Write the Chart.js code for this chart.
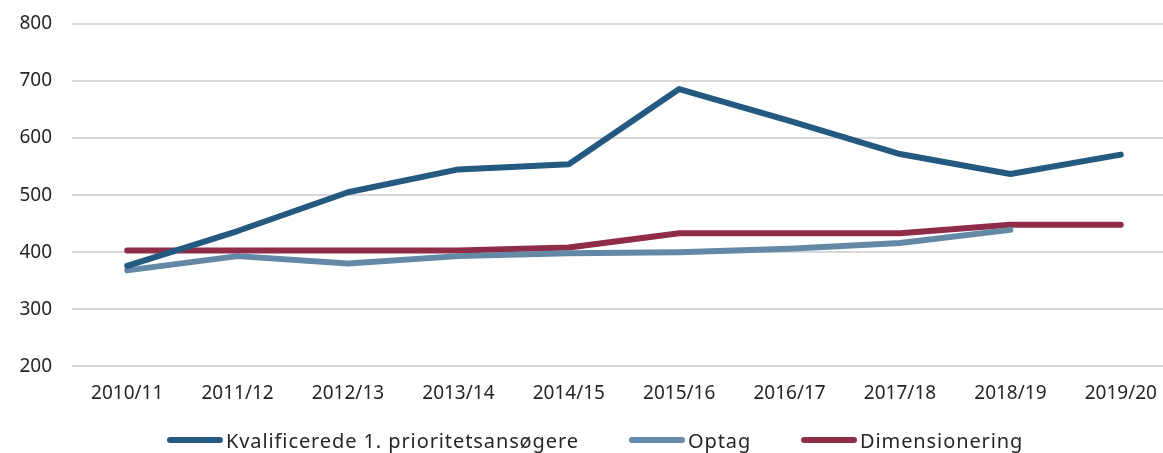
<!DOCTYPE html>
<html>
<head>
<meta charset="utf-8">
<script src="https://cdn.jsdelivr.net/npm/chart.js@4/dist/chart.umd.min.js"></script>
<style>
  html, body { margin: 0; padding: 0; background: #fff; overflow: hidden; }
  #wrap { position: relative; width: 1176px; height: 453px; }
  #legend {
    position: absolute; left: 167px; top: 428px; height: 24px;
    display: flex; align-items: center;
    font-family: 'Noto Sans', sans-serif; font-size: 20px; color: #262626;
    letter-spacing: 0.9px;
  }
  #legend .item { display: flex; align-items: center; }
  #legend .mark { width: 56px; height: 6px; border-radius: 3px; margin-right: 3px; }
</style>
</head>
<body>
<div id="wrap">
  <canvas id="c" width="1176" height="453"></canvas>
  <div id="legend"></div>
</div>
<script>
const years = ["2010/11", "2011/12", "2012/13", "2013/14", "2014/15", "2015/16", "2016/17", "2017/18", "2018/19", "2019/20"];
const kvalificerede = [376, 437, 505, 545, 554, 686, 630, 572, 537, 571];
const optag = [368, 393, 380, 393, 398, 400, 406, 416, 439, null];
const dimensionering = [403, 403, 403, 403, 408, 433, 433, 433, 448, 448];
const yTicks = [200, 300, 400, 500, 600, 700, 800];

const tickFont = { family: "'Noto Sans', sans-serif", size: 19 };
const ink = "#262626";

const line = (label, data, color) => ({
  label, data,
  borderColor: color,
  backgroundColor: color,
  borderWidth: 6,
  borderCapStyle: "round",
  borderJoinStyle: "round",
  pointRadius: 0,
  pointHoverRadius: 0,
  tension: 0,
  spanGaps: false,
});

const chart = new Chart(document.getElementById("c"), {
  type: "line",
  data: {
    labels: years,
    datasets: [
      line("Kvalificerede 1. prioritetsansøgere", kvalificerede, "#245a80"),
      line("Optag", optag, "#6389a6"),
      line("Dimensionering", dimensionering, "#8f2d48"),
    ],
  },
  options: {
    responsive: false,
    animation: false,
    layout: { padding: { top: 24, right: 0, bottom: 40, left: 0 } },
    plugins: {
      tooltip: { enabled: false },
      legend: { display: false },
    },
    scales: {
      x: {
        offset: true,
        grid: { display: false },
        border: { display: false },
        ticks: { color: ink, font: tickFont, padding: 8, maxRotation: 0 },
      },
      y: {
        min: 200,
        max: 800,
        afterFit: (s) => { s.width = 72; s.paddingTop = 0; s.paddingBottom = 0; },
        afterBuildTicks: (s) => { s.ticks = yTicks.map(v => ({ value: v })); },
        grid: { color: "#d9d9d9", lineWidth: 2, drawTicks: false },
        border: { display: false },
        ticks: { color: ink, font: tickFont, padding: 20 },
      },
    },
  },
});

// legend as html, same colours as the datasets; text widths match the original spacing
const legendWidths = [360, 70, 171];
const legendEl = document.getElementById("legend");
chart.data.datasets.forEach((ds, i) => {
  const item = document.createElement("div");
  item.className = "item";
  item.style.marginRight = i < 2 ? "43px" : "0";
  item.innerHTML = `<span class="mark" style="background:${ds.borderColor}"></span><span style="display:inline-block;width:${legendWidths[i]}px;white-space:nowrap">${ds.label}</span>`;
  legendEl.appendChild(item);
});
</script>
</body>
</html>
